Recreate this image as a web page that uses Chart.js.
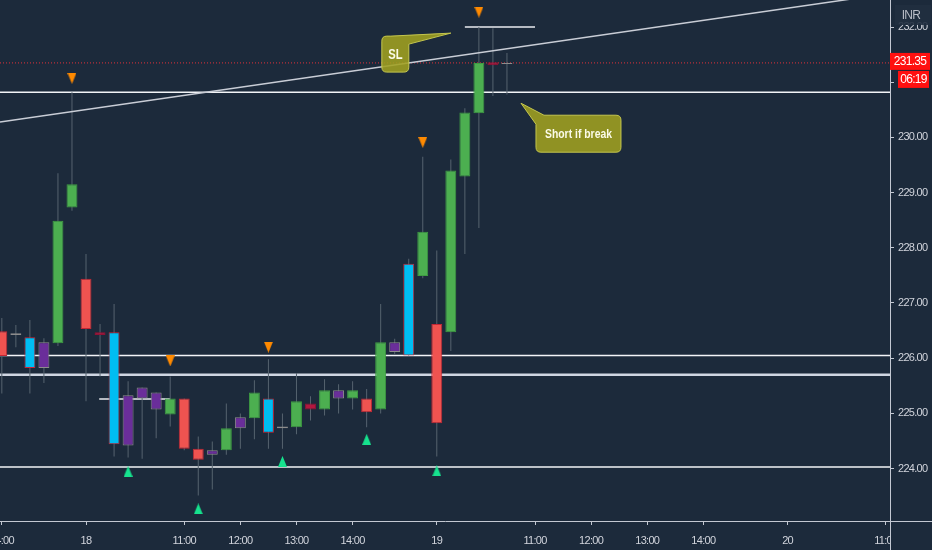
<!DOCTYPE html>
<html>
<head>
<meta charset="utf-8">
<script src="https://cdn.jsdelivr.net/npm/chart.js@4.4.0/dist/chart.umd.min.js"></script>
<style>
  html, body { margin: 0; padding: 0; background: #1c2a3b; }
  #wrap { width: 932px; height: 550px; }
</style>
</head>
<body>
<div id="wrap"><canvas id="chart"></canvas></div>
<script>
// 15 minute bars, slot 0 = 17th 14:00, slot 6 = 18th 09:15, slot 31 = 19th 09:15
var slots  = [0, 1, 2, 3, 4, 5, 6, 7, 8, 9, 10, 11, 12, 13, 14, 15, 16, 17, 18, 19, 20, 21, 22, 23, 24, 25, 26, 27, 28, 29, 30, 31, 32, 33, 34, 35, 36];
var opens  = [226.49, 226.42, 226.38, 225.82, 226.27, 228.73, 227.44, 226.47, 226.47, 224.42, 225.27, 225.38, 224.98, 225.27, 224.36, 224.25, 224.33, 224.73, 224.91, 225.27, 224.73, 224.75, 225.18, 225.07, 225.42, 225.27, 225.27, 225.07, 226.29, 226.05, 227.49, 226.62, 226.47, 229.29, 230.44, 231.36, 231.33];
var highs  = [226.73, 226.60, 226.69, 226.36, 229.35, 230.82, 227.89, 226.62, 226.98, 225.58, 225.47, 225.38, 225.67, 225.27, 224.58, 224.49, 225.18, 225.00, 225.60, 225.98, 225.00, 225.73, 225.31, 225.62, 225.53, 225.58, 225.44, 226.98, 226.35, 227.80, 229.65, 227.95, 229.60, 230.53, 232.00, 231.98, 231.53];
var lows   = [225.36, 226.20, 225.36, 225.55, 226.22, 228.67, 225.22, 225.67, 224.22, 224.20, 224.18, 224.55, 224.76, 224.33, 223.51, 223.62, 224.25, 224.36, 224.53, 224.36, 224.36, 224.62, 224.87, 224.96, 225.00, 225.07, 224.75, 225.00, 226.07, 226.05, 227.45, 224.22, 226.13, 227.89, 228.36, 230.75, 230.78];
var closes = [226.04, 226.45, 225.82, 226.29, 228.49, 229.15, 226.53, 226.42, 224.44, 225.33, 225.47, 225.07, 225.27, 224.36, 224.16, 224.33, 224.73, 224.93, 225.38, 224.65, 224.76, 225.22, 225.07, 225.42, 225.27, 225.42, 225.02, 226.29, 226.11, 227.71, 228.29, 224.82, 229.40, 230.45, 231.35, 231.31, 231.35];
// bar colouring of the indicator: g up, r down, c climax, p churn, m small down
var kinds  = ["r", "p", "c", "p", "g", "g", "r", "m", "c", "p", "p", "p", "g", "r", "r", "p", "g", "p", "g", "c", "p", "g", "m", "g", "p", "g", "r", "g", "p", "c", "g", "r", "g", "g", "g", "m", "p"];

var tickSlots  = [0, 6, 13, 17, 21, 25, 31, 38, 42, 46, 50, 56, 63];
var tickLabels = ["14:00", "18", "11:00", "12:00", "13:00", "14:00", "19", "11:00", "12:00", "13:00", "14:00", "20", "11:00"];

var levels = [230.82, 226.05, 225.70, 224.03];
var shortFrom = [6.94, 33.0];
var shortTo = [12.0, 38.0];
var shortPrice = [225.26, 232.0];

var trendSlots = [-0.13, 63.3];
var trendPrices = [230.28, 232.61];

var sellSlots = [5, 12, 19, 30, 34];
var sellPrices = [231.07, 225.95, 226.2, 229.91, 232.27];
var buySlots = [9, 14, 20, 26, 31];
var buyPrices = [223.95, 223.27, 224.13, 224.53, 223.96];

var lastPrice = 231.35;
var countdown = "06:19";
var currency = "INR";
var noteTexts = ["SL", "Short if break"];
var noteSlots = [32.0, 37.0];
var notePrices = [231.89, 230.62];

var BG = "#1c2a3b";
var AXIS = "#c3c8d2";
var TEXT = "#d1d4dc";
var FONT = "'Liberation Sans', Arial, sans-serif";

var palette = {
  g: { fill: "#4caf50", border: "#3e9c42" },
  r: { fill: "#ef5350", border: "#c42634" },
  c: { fill: "#00bdf2", border: "#c8283a" },
  p: { fill: "#6a2e9a", border: "#8c8c8c" },
  m: { fill: "#b3173f", border: "#8e1233" },
};

function triangleImage(color, down) {
  var c = document.createElement("canvas");
  c.width = 9;
  c.height = 11;
  var t = c.getContext("2d");
  t.fillStyle = color;
  t.beginPath();
  if (down) {
    t.moveTo(0, 0);
    t.lineTo(9, 0);
    t.lineTo(4.5, 11);
  } else {
    t.moveTo(4.5, 0);
    t.lineTo(9, 11);
    t.lineTo(0, 11);
  }
  t.closePath();
  t.fill();
  return c;
}

var bodies = slots.map(function (s, i) {
  return { x: s, y: [opens[i], closes[i]] };
});
var wicks = slots.map(function (s, i) {
  return { x: s, y: [lows[i], highs[i]] };
});

var datasets = [];

levels.forEach(function (p, i) {
  datasets.push({
    type: "line",
    data: [{ x: trendSlots[0], y: p }, { x: trendSlots[1], y: p }],
    borderColor: i == 2 ? "#cfd6e2" : "#f2f4f7",
    borderWidth: i == 2 ? 2.5 : 1.5,
    pointRadius: 0,
    order: 6,
  });
});
shortPrice.forEach(function (p, i) {
  datasets.push({
    type: "line",
    data: [{ x: shortFrom[i], y: p }, { x: shortTo[i], y: p }],
    borderColor: "#e8ebf0",
    borderWidth: 1.5,
    pointRadius: 0,
    order: 6,
  });
});
datasets.push({
  type: "line",
  data: [{ x: trendSlots[0], y: lastPrice }, { x: trendSlots[1], y: lastPrice }],
  borderColor: "#e0323a",
  borderWidth: 1,
  borderDash: [1, 2],
  pointRadius: 0,
  order: 6,
});
datasets.push({
  type: "bar",
  data: wicks,
  backgroundColor: "#56636f",
  borderWidth: 0,
  grouped: false,
  maxBarThickness: 1,
  order: 5,
});
datasets.push({
  type: "bar",
  data: bodies,
  backgroundColor: kinds.map(function (k) { return palette[k].fill; }),
  borderColor: kinds.map(function (k) { return palette[k].border; }),
  borderWidth: 1,
  borderSkipped: false,
  grouped: false,
  barPercentage: 0.78,
  categoryPercentage: 1,
  order: 4,
});
datasets.push({
  type: "line",
  data: [{ x: trendSlots[0], y: trendPrices[0] }, { x: trendSlots[1], y: trendPrices[1] }],
  borderColor: "#c9cdd6",
  borderWidth: 1.5,
  pointRadius: 0,
  order: 3,
});
datasets.push({
  type: "line",
  showLine: false,
  data: sellSlots.map(function (s, i) { return { x: s, y: sellPrices[i] }; }),
  pointStyle: triangleImage("#ff8a00", true),
  pointRadius: 5,
  order: 2,
});
datasets.push({
  type: "line",
  showLine: false,
  data: buySlots.map(function (s, i) { return { x: s, y: buyPrices[i] }; }),
  pointStyle: triangleImage("#16e28e", false),
  pointRadius: 5,
  order: 2,
});

var background = {
  id: "background",
  beforeDraw: function (chart) {
    var c = chart.ctx;
    c.fillStyle = BG;
    c.fillRect(0, 0, chart.width, chart.height);
    // the scale text in the original is narrow
    c.letterSpacing = "-0.7px";
  },
};

function drawNote(c, i, px, py) {
  c.save();
  c.beginPath();
  var r = 5;
  var L, T, W, H;
  if (i == 0) {
    L = px - 69; T = py + 3; W = 27; H = 36;
    c.moveTo(L + r, T);
    c.lineTo(px - 60, T);
    c.lineTo(px, py);
    c.lineTo(L + W, py + 11);
    c.lineTo(L + W, T + H - r);
    c.quadraticCurveTo(L + W, T + H, L + W - r, T + H);
    c.lineTo(L + r, T + H);
    c.quadraticCurveTo(L, T + H, L, T + H - r);
    c.lineTo(L, T + r);
    c.quadraticCurveTo(L, T, L + r, T);
  } else {
    L = px + 15; T = py + 12; W = 85; H = 37;
    c.moveTo(px + 23, T);
    c.lineTo(L + W - r, T);
    c.quadraticCurveTo(L + W, T, L + W, T + r);
    c.lineTo(L + W, T + H - r);
    c.quadraticCurveTo(L + W, T + H, L + W - r, T + H);
    c.lineTo(L + r, T + H);
    c.quadraticCurveTo(L, T + H, L, T + H - r);
    c.lineTo(L, py + 21);
    c.lineTo(px, py);
  }
  c.closePath();
  c.fillStyle = "rgba(160,161,32,0.88)";
  c.fill();
  c.strokeStyle = "#c4c64e";
  c.lineWidth = 1;
  c.stroke();
  c.fillStyle = "#fbfbe8";
  c.font = "bold " + (i == 0 ? 14 : 13) + "px " + FONT;
  c.textAlign = "center";
  c.textBaseline = "middle";
  c.letterSpacing = "0px";
  c.translate(L + W / 2, T + H / 2 + 1);
  c.scale(0.8, 1);
  c.fillText(noteTexts[i], 0, 0);
  c.restore();
}

var overlay = {
  id: "overlay",
  afterDatasetsDraw: function (chart) {
    var c = chart.ctx;
    var xs = chart.scales.x;
    var ys = chart.scales.y;
    c.save();
    c.beginPath();
    c.rect(chart.chartArea.left, chart.chartArea.top, chart.chartArea.right - chart.chartArea.left, chart.chartArea.bottom - chart.chartArea.top);
    c.clip();
    for (var i = 0; i < noteTexts.length; i++) {
      drawNote(c, i, xs.getPixelForValue(noteSlots[i]), ys.getPixelForValue(notePrices[i]));
    }
    c.restore();
  },
  afterDraw: function (chart) {
    var c = chart.ctx;
    var a = chart.chartArea;
    var ys = chart.scales.y;
    c.save();
    // right panel corner under the price scale
    c.fillStyle = BG;
    c.fillRect(a.right + 1, a.bottom + 1, chart.width - a.right, chart.height - a.bottom);
    c.strokeStyle = AXIS;
    c.lineWidth = 1;
    c.beginPath();
    c.moveTo(a.right + 0.5, 0);
    c.lineTo(a.right + 0.5, chart.height);
    c.moveTo(a.right, a.bottom + 0.5);
    c.lineTo(chart.width, a.bottom + 0.5);
    c.stroke();

    // currency box
    c.fillStyle = "rgba(33,47,64,0.9)";
    c.fillRect(a.right + 5, 5, 36, 20);
    c.fillStyle = "#b8bcc6";
    c.font = "12px " + FONT;
    c.textAlign = "center";
    c.textBaseline = "middle";
    c.fillText(currency, a.right + 21, 16);

    // last price and countdown
    var py = ys.getPixelForValue(lastPrice);
    c.fillStyle = "#ff1010";
    c.fillRect(a.right, py - 10, 40, 17);
    c.fillRect(a.right + 8, py + 8, 31, 17);
    c.fillStyle = "#ffffff";
    c.font = "12px " + FONT;
    c.fillText(lastPrice.toFixed(2), a.right + 20, py - 1);
    c.fillText(countdown, a.right + 23.5, py + 16.5);
    c.restore();
  },
};

var ctx = document.getElementById("chart").getContext("2d");

new Chart(ctx, {
  type: "bar",
  data: { datasets: datasets },
  options: {
    responsive: true,
    maintainAspectRatio: false,
    animation: false,
    layout: { padding: 0, autoPadding: false },
    plugins: {
      legend: { display: false },
      tooltip: { enabled: false },
    },
    scales: {
      x: {
        type: "linear",
        min: trendSlots[0],
        max: trendSlots[1],
        offset: false,
        grid: {
          display: true,
          drawOnChartArea: false,
          drawTicks: true,
          tickLength: 4,
          color: AXIS,
          offset: false,
        },
        border: { display: true, color: AXIS },
        afterBuildTicks: function (scale) {
          scale.ticks = tickSlots.map(function (v) { return { value: v }; });
        },
        afterFit: function (scale) {
          scale.paddingLeft = 0;
          scale.paddingRight = 0;
          scale.height = 29;
        },
        ticks: {
          autoSkip: false,
          maxRotation: 0,
          padding: 9,
          color: TEXT,
          font: { size: 11, family: FONT },
          callback: function (value, index) {
            return tickLabels[index];
          },
        },
      },
      y: {
        position: "right",
        min: 223.05,
        max: 232.49,
        grid: {
          display: true,
          drawOnChartArea: false,
          drawTicks: true,
          tickLength: 4,
          color: AXIS,
        },
        border: { display: true, color: AXIS },
        afterFit: function (scale) {
          scale.width = 42;
          scale.paddingTop = 0;
          scale.paddingBottom = 0;
        },
        ticks: {
          stepSize: 1,
          includeBounds: false,
          padding: 4,
          color: TEXT,
          font: { size: 11, family: FONT },
          callback: function (value) {
            return value.toFixed(2);
          },
        },
      },
    },
  },
  plugins: [background, overlay],
});
</script>
</body>
</html>
